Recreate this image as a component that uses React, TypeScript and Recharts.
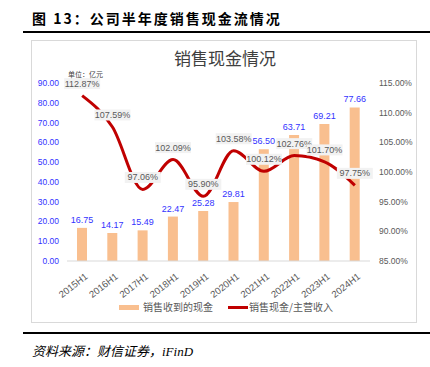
import React from 'react';
import { ComposedChart, Bar, Line, XAxis, YAxis, LabelList } from 'recharts';

const periods = ['2015H1', '2016H1', '2017H1', '2018H1', '2019H1', '2020H1', '2021H1', '2022H1', '2023H1', '2024H1'];
const cashReceived = [16.75, 14.17, 15.49, 22.47, 25.28, 29.81, 56.5, 63.71, 69.21, 77.66];
const cashRatio = [112.87, 107.59, 97.06, 102.09, 95.9, 103.58, 100.12, 102.76, 101.7, 97.75];
const leftTicks = [0, 10, 20, 30, 40, 50, 60, 70, 80, 90];
const rightTicks = [85, 90, 95, 100, 105, 110, 115];

const data = periods.map((p, i) => ({ period: p, cash: cashReceived[i], ratio: cashRatio[i] }));

const NUM_FONT = '"Liberation Sans", Arial, sans-serif';
const CJK_FONT = '"Noto Sans CJK SC", sans-serif';

const XTick = ({ x, y, payload }: any) => (
    <text
        x={x + 4}
        y={y + 6}
        transform={`rotate(-38, ${x + 4}, ${y + 6})`}
        textAnchor="end"
        dominantBaseline="central"
        fontSize={9.5}
        fontFamily={NUM_FONT}
        fill="#595959"
    >
        {payload.value}
    </text>
);

const RatioLabel = ({ x, y, value }: any) => {
    const t = `${Number(value).toFixed(2)}%`;
    const w = 36;
    const h = 11;
    return (
        <g>
            <rect x={x - w / 2} y={y - 12 - h / 2} width={w} height={h} fill="#F2F2F2" />
            <text
                x={x}
                y={y - 12}
                textAnchor="middle"
                dominantBaseline="central"
                fontSize={9}
                fontFamily={NUM_FONT}
                fill="#595959"
            >
                {t}
            </text>
        </g>
    );
};

export default function App() {
    return (
        <div style={{ position: 'absolute', left: 0, top: 0, width: 430, height: 367, background: '#fff' }}>
            <div
                style={{
                    position: 'absolute',
                    left: 32,
                    top: 8,
                    fontFamily: CJK_FONT,
                    fontWeight: 700,
                    fontSize: 14,
                    letterSpacing: 2,
                    color: '#000',
                    lineHeight: '20px',
                }}
            >
                图 13：公司半年度销售现金流情况
            </div>
            <div style={{ position: 'absolute', left: 23, top: 31, width: 407, height: 2, background: '#000' }} />
            <div
                style={{
                    position: 'absolute',
                    left: 31,
                    top: 40,
                    width: 386,
                    height: 283,
                    border: '1px solid #D9D9D9',
                    boxSizing: 'border-box',
                }}
            />
            <div
                style={{
                    position: 'absolute',
                    left: 0,
                    width: 430,
                    top: 47,
                    textAlign: 'center',
                    fontFamily: CJK_FONT,
                    fontSize: 17,
                    color: '#404040',
                    lineHeight: '22px',
                    paddingLeft: 20,
                    boxSizing: 'border-box',
                }}
            >
                销售现金情况
            </div>
            <div style={{ position: 'absolute', left: 0, top: 0 }}>
                <ComposedChart width={430} height={367} data={data} margin={{ top: 83, right: 20, bottom: 66, left: 20 }}>
                    <XAxis
                        dataKey="period"
                        tick={<XTick />}
                        tickLine={false}
                        axisLine={{ stroke: '#D9D9D9' }}
                        interval={0}
                        height={40}
                    />
                    <YAxis
                        yAxisId="left"
                        domain={[0, 90]}
                        ticks={leftTicks}
                        interval={0}
                        tickFormatter={(v: number) => v.toFixed(2)}
                        tick={{ fill: '#3333FF', fontSize: 8.5, fontFamily: NUM_FONT }}
                        axisLine={false}
                        tickLine={false}
                        tickSize={4}
                        tickMargin={4}
                        width={47}
                    />
                    <YAxis
                        yAxisId="right"
                        orientation="right"
                        domain={[85, 115]}
                        ticks={rightTicks}
                        interval={0}
                        tickFormatter={(v: number) => `${v.toFixed(2)}%`}
                        tick={{ fill: '#595959', fontSize: 8.5, fontFamily: NUM_FONT, textAnchor: 'start' }}
                        axisLine={false}
                        tickLine={false}
                        tickSize={4}
                        tickMargin={5}
                        width={40}
                    />
                    <Bar yAxisId="left" dataKey="cash" fill="#F9BF8F" barSize={10} isAnimationActive={false}>
                        <LabelList
                            dataKey="cash"
                            position="top"
                            offset={5}
                            formatter={(v: any) => Number(v).toFixed(2)}
                            style={{ fill: '#3333FF', fontSize: 9, fontFamily: NUM_FONT }}
                        />
                    </Bar>
                    <Line
                        yAxisId="right"
                        type="monotone"
                        dataKey="ratio"
                        stroke="#C00000"
                        strokeWidth={3}
                        dot={false}
                        isAnimationActive={false}
                    >
                        <LabelList dataKey="ratio" content={<RatioLabel />} />
                    </Line>
                </ComposedChart>
            </div>
            <div
                style={{
                    position: 'absolute',
                    left: 0,
                    top: 300,
                    width: 430,
                    display: 'flex',
                    fontFamily: CJK_FONT,
                    fontSize: 10,
                    color: '#595959',
                    lineHeight: '14px',
                }}
            >
                <div style={{ display: 'flex', alignItems: 'center', marginLeft: 119 }}>
                    <span style={{ display: 'inline-block', width: 20, height: 5, background: '#F9BF8F', marginRight: 4 }} />
                    销售收到的现金
                </div>
                <div style={{ display: 'flex', alignItems: 'center', marginLeft: 15 }}>
                    <span style={{ display: 'inline-block', width: 20, height: 3, background: '#C00000', marginRight: 1 }} />
                    销售现金/主营收入
                </div>
            </div>
            <div
                style={{
                    position: 'absolute',
                    left: 68,
                    top: 70,
                    fontFamily: CJK_FONT,
                    fontSize: 7,
                    color: '#404040',
                    lineHeight: '8px',
                }}
            >
                单位：亿元
            </div>
            <div style={{ position: 'absolute', left: 23, top: 332, width: 407, height: 2, background: '#000' }} />
            <div
                style={{
                    position: 'absolute',
                    left: 32,
                    top: 343,
                    fontFamily: '"Liberation Serif", "Noto Sans CJK SC", serif',
                    fontStyle: 'italic',
                    fontSize: 13,
                    color: '#000',
                    lineHeight: '18px',
                }}
            >
                资料来源：财信证券，iFinD
            </div>
        </div>
    );
}
